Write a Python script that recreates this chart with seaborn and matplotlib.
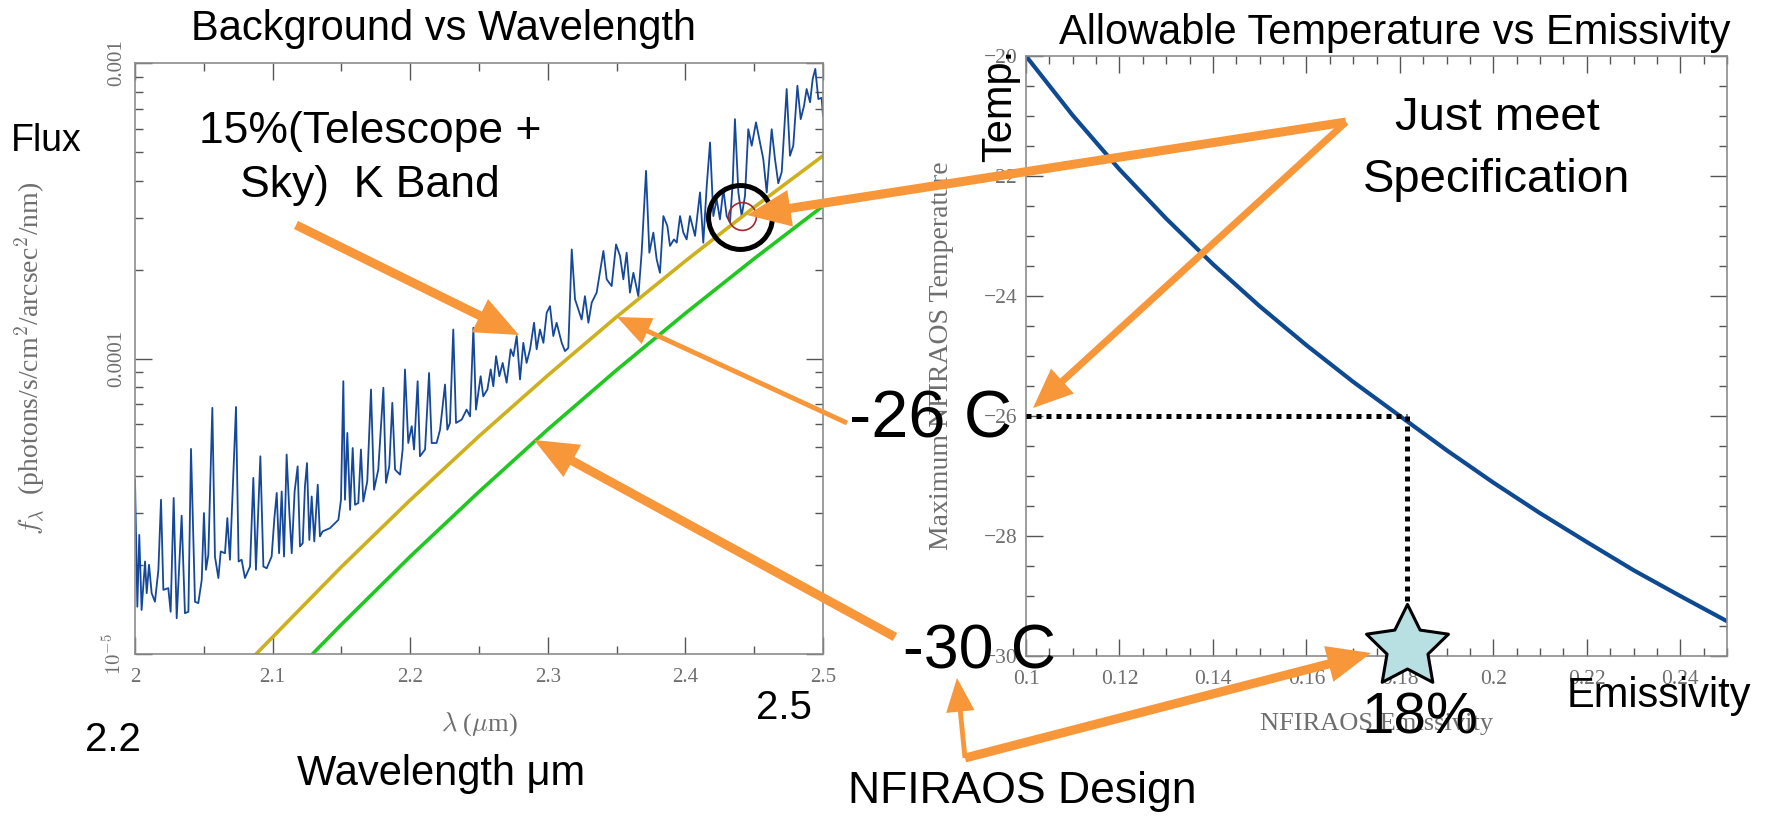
import numpy as np
import matplotlib
matplotlib.use('Agg')
import matplotlib.pyplot as plt
import matplotlib.patches as mpatches
import matplotlib.path as mpath
from matplotlib.ticker import FixedLocator, MultipleLocator, LogLocator, NullFormatter
import seaborn as sns

sns.set_style('ticks')
plt.rcParams['font.family'] = ['Liberation Sans', 'DejaVu Sans']
plt.rcParams['mathtext.fontset'] = 'cm'

# ---------------- data: left panel (sky + telescope background) ----------------
spec_wl_a = [2.000, 2.0017, 2.0031, 2.0048, 2.0073, 2.0085, 2.0102, 2.0121, 2.0145, 2.0170,
             2.0189, 2.0206, 2.0242, 2.0259, 2.0281, 2.0303, 2.0339, 2.0363, 2.0388, 2.0407,
             2.0436, 2.0460, 2.0485, 2.0501, 2.0516, 2.0533, 2.0562, 2.0581, 2.0606, 2.0623,
             2.0654, 2.0671, 2.0690, 2.0734, 2.0753, 2.0775, 2.0799, 2.0836, 2.0860, 2.0879,
             2.0911, 2.0933, 2.0957, 2.0993, 2.1013, 2.1030, 2.1047, 2.1066, 2.1083, 2.1102,
             2.1122, 2.1139, 2.1160, 2.1182, 2.1199, 2.1219, 2.1235, 2.1250, 2.1267, 2.1284,
             2.1303, 2.1328, 2.1344, 2.1364, 2.1417, 2.1478, 2.1497, 2.1514, 2.1526, 2.1543,
             2.1563, 2.1582, 2.1599, 2.1623, 2.1642, 2.1659, 2.1688]
spec_logf_a = [-4.410, -4.840, -4.597, -4.851, -4.687, -4.794, -4.698, -4.794, -4.823, -4.715,
               -4.478, -4.783, -4.777, -4.857, -4.472, -4.879, -4.532, -4.862, -4.857, -4.306,
               -4.823, -4.828, -4.749, -4.523, -4.715, -4.664, -4.167, -4.670, -4.743, -4.653,
               -4.659, -4.540, -4.681, -4.164, -4.687, -4.681, -4.743, -4.704, -4.404, -4.715,
               -4.331, -4.704, -4.710, -4.670, -4.540, -4.455, -4.659, -4.450, -4.670, -4.325,
               -4.523, -4.659, -4.450, -4.365, -4.636, -4.625, -4.433, -4.354, -4.614, -4.467,
               -4.619, -4.427, -4.602, -4.585, -4.574, -4.546, -4.478, -4.077, -4.478, -4.252,
               -4.512, -4.303, -4.495, -4.489, -4.308, -4.484, -4.416]
spec_wl_b = [2.1715, 2.1737, 2.1768, 2.1805, 2.1824, 2.1848, 2.1870, 2.1890, 2.1926, 2.1945,
             2.1962, 2.1986, 2.2011, 2.2028, 2.2054, 2.2071, 2.2108, 2.2137, 2.2156, 2.2192,
             2.2217, 2.2253, 2.2270, 2.2289, 2.2313, 2.2333, 2.2374, 2.2410, 2.2435, 2.2459,
             2.2478, 2.2512, 2.2531, 2.2561, 2.2585, 2.2604, 2.2624, 2.2648, 2.2672, 2.2701,
             2.2730, 2.2750, 2.2774, 2.2798, 2.2822, 2.2846, 2.2871, 2.2900, 2.2919, 2.2943,
             2.2968, 2.2992, 2.3016, 2.3040, 2.3064, 2.3101, 2.3125, 2.3149, 2.3174, 2.3198,
             2.3222, 2.3246, 2.3270, 2.3295, 2.3319, 2.3355]
spec_logf_b = [-4.105, -4.444, -4.376, -4.099, -4.421, -4.365, -4.150, -4.376, -4.393, -4.308,
               -4.037, -4.286, -4.229, -4.308, -4.077, -4.331, -4.308, -4.049, -4.286, -4.286,
               -4.241, -4.088, -4.241, -4.218, -3.902, -4.218, -4.207, -4.173, -4.196, -3.896,
               -4.173, -4.060, -4.128, -4.105, -4.037, -4.094, -3.992, -4.060, -4.015, -4.082,
               -3.969, -3.992, -3.924, -4.071, -3.947, -4.015, -3.969, -3.879, -3.969, -3.902,
               -3.947, -3.845, -3.823, -3.924, -3.879, -3.947, -3.975, -3.964, -3.631, -3.800,
               -3.834, -3.868, -3.789, -3.879, -3.811, -3.777]
spec_wl_c = [2.3404, 2.3428, 2.3464, 2.3496, 2.3525, 2.3549, 2.3573, 2.3597, 2.3622, 2.3658,
             2.3682, 2.3714, 2.3738, 2.3767, 2.3791, 2.3815, 2.3840, 2.3869, 2.3888, 2.3917,
             2.3937, 2.3961, 2.3985, 2.4009, 2.4033, 2.4070, 2.4106, 2.4130, 2.4155, 2.4179,
             2.4203, 2.4227, 2.4251, 2.4276, 2.4300, 2.4324, 2.4344, 2.4360, 2.4385, 2.4409,
             2.4433, 2.4457, 2.4482, 2.4513, 2.4542, 2.4566, 2.4591, 2.4627, 2.4651, 2.4675,
             2.4700, 2.4736, 2.4760, 2.4784, 2.4814, 2.4838, 2.4862, 2.4881, 2.4906, 2.4925,
             2.4944, 2.4966, 2.4990, 2.5000]
spec_logf_c = [-3.636, -3.732, -3.755, -3.614, -3.653, -3.732, -3.642, -3.777, -3.710, -3.789,
               -3.642, -3.365, -3.642, -3.574, -3.664, -3.710, -3.518, -3.552, -3.619, -3.597,
               -3.608, -3.518, -3.574, -3.597, -3.518, -3.585, -3.438, -3.608, -3.416, -3.269,
               -3.518, -3.461, -3.529, -3.427, -3.518, -3.540, -3.404, -3.190, -3.438, -3.518,
               -3.450, -3.224, -3.280, -3.201, -3.269, -3.325, -3.438, -3.224, -3.325, -3.407,
               -3.369, -3.088, -3.314, -3.280, -3.077, -3.190, -3.145, -3.088, -3.133, -3.054,
               -3.020, -3.122, -3.118, -3.179]

# thermal emission curves (-26 C and -30 C)
warm_wl = [2.088, 2.15, 2.2, 2.25, 2.3, 2.35, 2.4, 2.45, 2.5]
warm_logf = [-5.0, -4.705, -4.479, -4.263, -4.057, -3.859, -3.670, -3.488, -3.314]
cold_wl = [2.129, 2.15, 2.2, 2.25, 2.3, 2.35, 2.4, 2.45, 2.5]
cold_logf = [-5.0, -4.900, -4.670, -4.451, -4.240, -4.039, -3.847, -3.662, -3.484]

spec_mark = (2.4397, -3.522)   # circled point

left_xticks = [2.0, 2.1, 2.2, 2.3, 2.4, 2.5]
left_xticklabels = ['2', '2.1', '2.2', '2.3', '2.4', '2.5']
left_yticks = [1e-5, 1e-4, 1e-3]
left_yticklabels = [r'$10^{-5}$', '0.0001', '0.001']

# ---------------- data: right panel ----------------
emissivity = [0.10, 0.11, 0.12, 0.13, 0.14, 0.15, 0.16, 0.17, 0.18,
              0.19, 0.20, 0.21, 0.22, 0.23, 0.24, 0.25]
max_temp = [-20.0, -20.99, -21.89, -22.71, -23.47, -24.17, -24.82, -25.43, -26.0,
            -26.57, -27.11, -27.62, -28.10, -28.57, -29.0, -29.42]
design_emis = 0.1815
spec_temp = -26.0
star_temp = -29.85
star_top = -29.15

right_xticks = [0.10, 0.12, 0.14, 0.16, 0.18, 0.20, 0.22, 0.24]
right_xticklabels = ['0.1', '0.12', '0.14', '0.16', '0.18', '0.2', '0.22', '0.24']
right_yticks = [-30, -28, -26, -24, -22, -20]
right_yticklabels = ['\u221230', '\u221228', '\u221226', '\u221224', '\u221222', '\u221220']

# ---------------- figure ----------------
W, H = 1771, 817
fig = plt.figure(figsize=(W / 100, H / 100), dpi=100)
fig.patch.set_facecolor('white')

BLUE = '#15489a'
GOLD = '#cdb01c'
GREEN = '#1ec81e'
ORANGE = '#f8973a'
GRAY = '#6e6e6e'
SPINE = '#8c8c8c'
SERIF = 'Liberation Serif'


def fr(x, y):
    return (x / W, 1 - y / H)


def style_axes(ax):
    for sp in ax.spines.values():
        sp.set_color(SPINE)
        sp.set_linewidth(1.2)
        sp.set_visible(True)
    ax.tick_params(which='both', direction='in', top=True, right=True,
                   color='#555555', labelcolor=GRAY, labelsize=15)
    ax.tick_params(which='major', length=12, width=1)
    ax.tick_params(which='minor', length=6, width=1)


# left axes
axL = fig.add_axes([135 / W, 1 - 654 / H, 688 / W, 591 / H])
axL.set_yscale('log')
spec_wl = spec_wl_a + spec_wl_b + spec_wl_c
spec_logf = spec_logf_a + spec_logf_b + spec_logf_c
sns.lineplot(x=spec_wl, y=10 ** np.array(spec_logf), ax=axL, color=BLUE, lw=1.3,
             estimator=None, sort=False)
sns.lineplot(x=warm_wl, y=10 ** np.array(warm_logf), ax=axL, color=GOLD, lw=2.6,
             estimator=None, sort=False)
sns.lineplot(x=cold_wl, y=10 ** np.array(cold_logf), ax=axL, color=GREEN, lw=2.6,
             estimator=None, sort=False)
axL.plot([spec_mark[0]], [10 ** spec_mark[1]], marker='o', ms=46, mfc='none',
         mec='black', mew=3.6, zorder=6, clip_on=False)
axL.plot([spec_mark[0] + 0.0015], [10 ** (spec_mark[1] + 0.004)], marker='o', ms=20,
         mfc='none', mec='#a3282c', mew=1.2, zorder=6)
axL.set_xlim(2.0, 2.5)
axL.set_ylim(1e-5, 1e-3)
style_axes(axL)
axL.xaxis.set_minor_locator(MultipleLocator(0.05))
axL.set_xticks(left_xticks, left_xticklabels, fontfamily=SERIF, fontsize=15, color=GRAY)
axL.yaxis.set_major_locator(FixedLocator(left_yticks))
axL.yaxis.set_minor_locator(LogLocator(base=10, subs=np.arange(2, 10)))
axL.yaxis.set_minor_formatter(NullFormatter())
axL.set_yticks(left_yticks, left_yticklabels, fontfamily=SERIF, fontsize=15, color=GRAY,
               rotation=90, va='center', ha='right')
axL.tick_params(axis='x', pad=10)
axL.tick_params(axis='y', pad=6)
axL.set_xlabel(r'$\lambda$ ($\mu$m)', fontfamily=SERIF, fontsize=19, color=GRAY)
axL.xaxis.set_label_coords(0.5, -0.095)
axL.set_ylabel(r'$f_\lambda$  (photons/s/cm$^2$/arcsec$^2$/nm)', fontfamily=SERIF,
               fontsize=20, color=GRAY)
axL.yaxis.set_label_coords(-0.128, 0.5)

# right axes
axR = fig.add_axes([1026 / W, 1 - 656 / H, 701 / W, 600 / H])
sns.lineplot(x=emissivity, y=max_temp, ax=axR, color='#0d4a92', lw=3.0,
             estimator=None, sort=False)
axR.plot([0.1, design_emis], [spec_temp, spec_temp], color='black', lw=3.6,
         ls=(0, (1, 1)), dash_capstyle='butt', clip_on=False, zorder=4)
axR.plot([design_emis, design_emis], [spec_temp, star_top], color='black', lw=3.6,
         ls=(0, (1, 1)), dash_capstyle='butt', clip_on=False, zorder=4)
star = mpath.Path.unit_regular_star(5, 0.5)
axR.plot([design_emis], [star_temp], marker=star, ms=62, mfc='#b8dfe2', mec='black',
         mew=2.2, clip_on=False, zorder=7)
axR.set_xlim(0.1, 0.25)
axR.set_ylim(-30, -20)
style_axes(axR)
axR.xaxis.set_minor_locator(MultipleLocator(0.005))
axR.yaxis.set_minor_locator(MultipleLocator(0.5))
axR.set_xticks(right_xticks, right_xticklabels, fontfamily=SERIF, fontsize=15.5, color=GRAY)
axR.set_yticks(right_yticks, right_yticklabels, fontfamily=SERIF, fontsize=15.5, color=GRAY)
axR.tick_params(axis='x', pad=10)
axR.tick_params(axis='y', pad=6)
axR.set_xlabel('NFIRAOS Emissivity', fontfamily=SERIF, fontsize=19, color=GRAY)
axR.xaxis.set_label_coords(0.5, -0.095)
axR.set_ylabel('Maximum NFIRAOS Temperature', fontfamily=SERIF, fontsize=20, color=GRAY)
axR.yaxis.set_label_coords(-0.103, 0.5)

# ---------------- overlay texts ----------------
def txt(x, y, s, size, **kw):
    fig.text(*fr(x, y), s, fontsize=size, ha=kw.pop('ha', 'center'),
             va=kw.pop('va', 'center'), color='black', zorder=10, **kw)


txt(443, 29, 'Background vs Wavelength', 30)
txt(1395, 33, 'Allowable Temperature vs Emissivity', 30)
txt(46, 141, 'Flux', 27)
txt(370, 131, '15%(Telescope +', 32)
txt(370, 186, 'Sky)  K Band', 32)
txt(113, 740, '2.2', 29)
txt(784, 708, '2.5', 29)
txt(441, 774, 'Wavelength \u03bcm', 30)
txt(1000, 105, 'Temp.', 30, rotation=90)
txt(1497, 118, 'Just meet', 34)
txt(1497, 180, 'Specification', 34)
txt(931, 421, '-26 C', 48)
txt(979, 652, '-30 C', 45)
txt(1420, 718, '18%', 42)
txt(1659, 696, 'Emissivity', 30)
txt(1022, 791, 'NFIRAOS Design', 32)

# ---------------- orange arrows ----------------
def arrow(p0, p1, lw, ms, style='-|>,head_length=0.9,head_width=0.38'):
    a = mpatches.FancyArrowPatch(fr(*p0), fr(*p1), transform=fig.transFigure,
                                 arrowstyle=style, mutation_scale=ms, lw=lw,
                                 color=ORANGE, shrinkA=0, shrinkB=0, zorder=9,
                                 joinstyle='miter', capstyle='butt')
    fig.add_artist(a)


arrow((296, 225), (519, 335), 6.5, 22)
arrow((847, 423), (617, 317), 3.5, 20)
arrow((895, 637), (534, 440), 6.5, 22)
arrow((1346, 122), (747, 215), 6.5, 22)
arrow((1346, 122), (1033, 408), 5.0, 22)
arrow((965, 758), (957, 678), 3.5, 20)
arrow((965, 758), (1371, 653), 6.5, 22)

fig.savefig('out.png', dpi=100, facecolor='white')
